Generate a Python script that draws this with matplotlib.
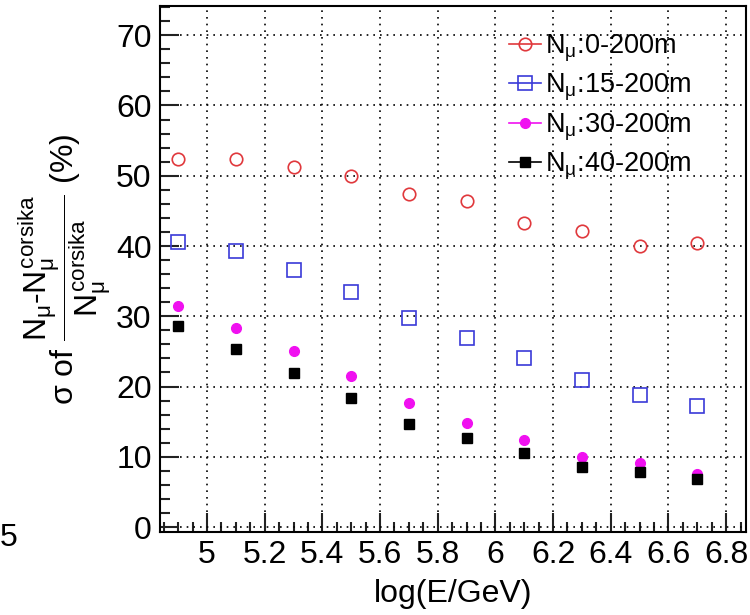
import numpy as np
import matplotlib
matplotlib.use('Agg')
import matplotlib.pyplot as plt
from matplotlib.lines import Line2D
from matplotlib.ticker import MultipleLocator

plt.rcParams['font.family'] = ['Liberation Sans', 'DejaVu Sans']
plt.rcParams['mathtext.fontset'] = 'custom'
plt.rcParams['mathtext.rm'] = 'Liberation Sans'
plt.rcParams['mathtext.it'] = 'Liberation Sans'
plt.rcParams['mathtext.sf'] = 'Liberation Sans'

# log10(E/GeV) bin centres
log_e = [4.9, 5.1, 5.3, 5.5, 5.7, 5.9, 6.1, 6.3, 6.5, 6.7]

# sigma of (N_mu - N_mu^corsika)/N_mu^corsika in %
sig_0_200 = [52.4, 52.4, 51.2, 50.0, 47.4, 46.4, 43.3, 42.2, 40.0, 40.4]
sig_15_200 = [40.5, 39.3, 36.6, 33.4, 29.7, 26.9, 24.0, 20.9, 18.8, 17.2]
sig_30_200 = [31.4, 28.4, 25.0, 21.5, 17.6, 14.8, 12.4, 10.0, 9.1, 7.6]
sig_40_200 = [28.6, 25.3, 21.9, 18.4, 14.7, 12.7, 10.5, 8.5, 7.8, 6.8]

labels = [r'N$_{\mu}$:0-200m', r'N$_{\mu}$:15-200m',
          r'N$_{\mu}$:30-200m', r'N$_{\mu}$:40-200m']

styles = [
    dict(marker='o', mfc='none', mec='#e0383c', color='#e0383c', ms=9, mew=1.2),
    dict(marker='s', mfc='none', mec='#3a3ad8', color='#3a3ad8', ms=9.5, mew=1.2),
    dict(marker='o', mfc='#f010f0', mec='#f010f0', color='#f010f0', ms=7),
    dict(marker='s', mfc='black', mec='black', color='black', ms=7),
]

fig = plt.figure(figsize=(7.5, 6.15), dpi=100)
ax = fig.add_axes([0.2133, 0.135, 0.7814, 0.8557])

for ys, st in zip([sig_0_200, sig_15_200, sig_30_200, sig_40_200], styles):
    ax.plot(log_e, ys, linestyle='none', **st)

ax.set_xlim(4.837, 6.869)
ax.set_ylim(-0.7, 74.2)
ax.xaxis.set_minor_locator(MultipleLocator(0.05))
ax.yaxis.set_major_locator(MultipleLocator(10))
ax.yaxis.set_minor_locator(MultipleLocator(2))
ax.set_xticks(np.arange(5.0, 6.81, 0.2))
ax.set_xticklabels(['5', '5.2', '5.4', '5.6', '5.8', '6', '6.2', '6.4', '6.6', '6.8'])

ax.tick_params(which='both', direction='in', top=False, right=False,
               labelsize=23, width=1.5, color='#222222')
ax.tick_params(which='major', length=14, pad=6)
ax.tick_params(which='minor', length=7)
ax.grid(True, which='major', color='black', linestyle=(0, (1, 3)), linewidth=1.2)
for s in ax.spines.values():
    s.set_linewidth(1.5)

ax.set_xlabel('log(E/GeV)', fontsize=23, labelpad=6)
ax.set_ylabel(r'$\sigma$ of $\dfrac{N_{\mu}\text{-}N_{\mu}^{corsika}}{N_{\mu}^{corsika}}$ (%)',
              fontsize=23, labelpad=2)

handles = [Line2D([0], [0], linestyle='-', linewidth=1.2, **st) for st in styles]
ax.legend(handles, labels, loc='upper right', bbox_to_anchor=(0.935, 0.98),
          frameon=False, fontsize=19.5, handlelength=1.2, handletextpad=0.15,
          labelspacing=0.3, borderaxespad=0.2)

fig.text(0.0, 0.125, '5', fontsize=23, ha='left', va='center')

fig.savefig('out.png', dpi=100)
